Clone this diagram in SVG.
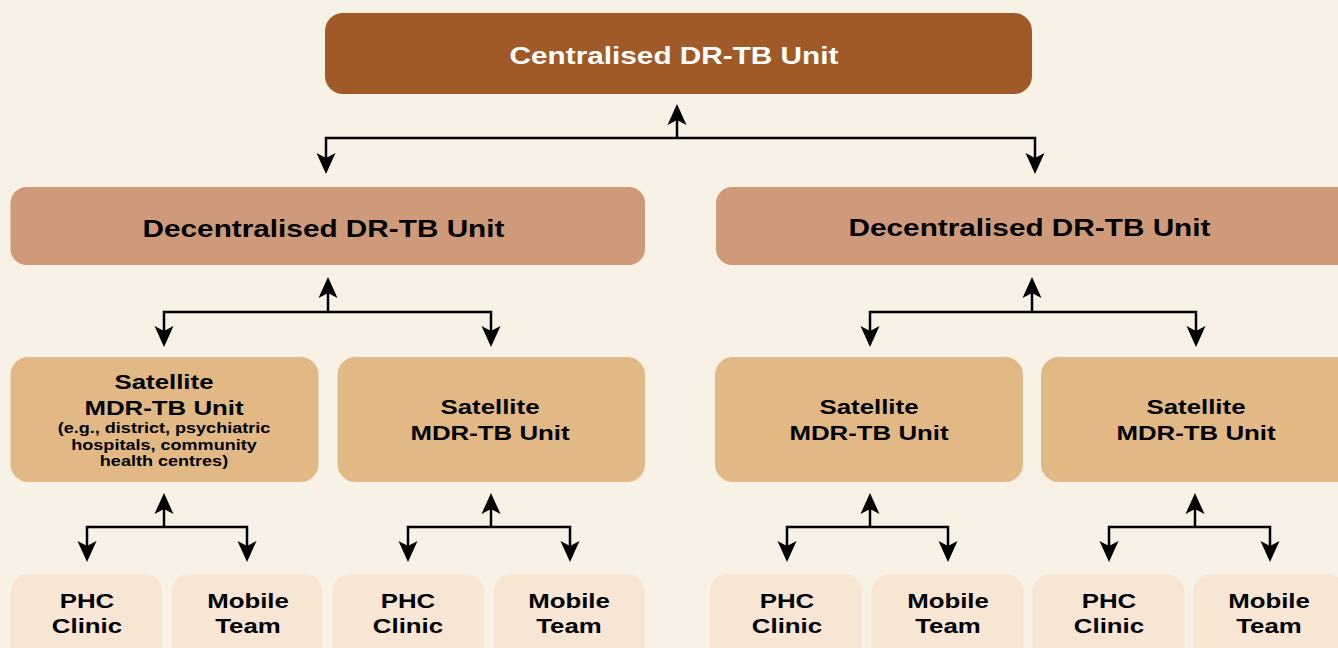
<svg xmlns="http://www.w3.org/2000/svg" width="1338" height="648" viewBox="0 0 1338 648">
<style>
  text { font-family: "Liberation Sans", Arial, Helvetica, sans-serif; font-weight: bold; text-anchor: middle; fill: #000; }
  .t1 { font-size: 24px; fill: #ffffff; }
  .t2 { font-size: 24px; }
  .t3 { font-size: 20.5px; }
  .t4 { font-size: 14px; }
  .t5 { font-size: 20.5px; }
  .c { fill: none; stroke: #000; stroke-width: 2.5; marker-end: url(#ah); }
  .central { fill: #A05A27; }
  .decen { fill: #CE9A7A; }
  .sat { fill: #E2B985; }
  .leaf { fill: #F7E6D4; }
</style>
<defs>
  <marker id="ah" markerUnits="userSpaceOnUse" markerWidth="22" markerHeight="22" viewBox="0 0 22 22" refX="15" refY="11" orient="auto">
    <path d="M0,1.5 L21,11 L0,20.5 L5,11 Z" fill="#000"/>
  </marker>
</defs>
<rect x="0" y="0" width="1338" height="648" fill="#F8F1E6"/>

<g id="connectors">
  <path class="c" d="M677,138 V110"/>
  <path class="c" d="M677,138 H326 V168"/>
  <path class="c" d="M677,138 H1035 V168"/>

  <path class="c" d="M328,312 V283"/>
  <path class="c" d="M328,312 H164 V341"/>
  <path class="c" d="M328,312 H491 V341"/>

  <path class="c" d="M1032,312 V283"/>
  <path class="c" d="M1032,312 H870 V341"/>
  <path class="c" d="M1032,312 H1196 V341"/>

  <path class="c" d="M164,527 V499"/>
  <path class="c" d="M164,527 H87 V556"/>
  <path class="c" d="M164,527 H247 V556"/>

  <path class="c" d="M491,527 V499"/>
  <path class="c" d="M491,527 H408 V556"/>
  <path class="c" d="M491,527 H570 V556"/>

  <path class="c" d="M870,527 V499"/>
  <path class="c" d="M870,527 H787 V556"/>
  <path class="c" d="M870,527 H948 V556"/>

  <path class="c" d="M1195,527 V499"/>
  <path class="c" d="M1195,527 H1109 V556"/>
  <path class="c" d="M1195,527 H1270 V556"/>
</g>

<g id="central">
  <rect class="central" x="325" y="13" width="707" height="81" rx="18"/>
  <text class="t1" transform="translate(674,63.5) scale(1.24,1)">Centralised DR-TB Unit</text>
</g>

<g id="decentral-left">
  <rect class="decen" x="10.5" y="187" width="634.5" height="78" rx="16"/>
  <text class="t2" transform="translate(323.5,237) scale(1.24,1)">Decentralised DR-TB Unit</text>
</g>
<g id="decentral-right">
  <rect class="decen" x="716" y="187" width="640" height="78" rx="16"/>
  <text class="t2" transform="translate(1029.5,236) scale(1.24,1)">Decentralised DR-TB Unit</text>
</g>

<g id="sat-1">
  <rect class="sat" x="10.5" y="357" width="308" height="125" rx="18"/>
  <text class="t3" transform="translate(164,389) scale(1.26,1)">Satellite</text>
  <text class="t3" transform="translate(164,414.5) scale(1.26,1)">MDR-TB Unit</text>
  <text class="t4" transform="translate(164,433) scale(1.29,1)">(e.g., district, psychiatric</text>
  <text class="t4" transform="translate(164,449.5) scale(1.29,1)">hospitals, community</text>
  <text class="t4" transform="translate(164,466) scale(1.29,1)">health centres)</text>
</g>
<g id="sat-2">
  <rect class="sat" x="337.5" y="357" width="307.5" height="125" rx="18"/>
  <text class="t3" transform="translate(490,414) scale(1.26,1)">Satellite</text>
  <text class="t3" transform="translate(490,439.5) scale(1.26,1)">MDR-TB Unit</text>
</g>
<g id="sat-3">
  <rect class="sat" x="715" y="357" width="308" height="125" rx="18"/>
  <text class="t3" transform="translate(869,414) scale(1.26,1)">Satellite</text>
  <text class="t3" transform="translate(869,439.5) scale(1.26,1)">MDR-TB Unit</text>
</g>
<g id="sat-4">
  <rect class="sat" x="1041" y="357" width="320" height="125" rx="18"/>
  <text class="t3" transform="translate(1196,414) scale(1.26,1)">Satellite</text>
  <text class="t3" transform="translate(1196,439.5) scale(1.26,1)">MDR-TB Unit</text>
</g>

<g id="phc-1">
  <rect class="leaf" x="10.5" y="574" width="151.5" height="100" rx="18"/>
  <text class="t5" transform="translate(87,607.5) scale(1.26,1)">PHC</text>
  <text class="t5" transform="translate(87,633) scale(1.26,1)">Clinic</text>
</g>
<g id="mobile-1">
  <rect class="leaf" x="171.5" y="574" width="151" height="100" rx="18"/>
  <text class="t5" transform="translate(248,607.5) scale(1.26,1)">Mobile</text>
  <text class="t5" transform="translate(248,633) scale(1.26,1)">Team</text>
</g>
<g id="phc-2">
  <rect class="leaf" x="332.5" y="574" width="151.5" height="100" rx="18"/>
  <text class="t5" transform="translate(408,607.5) scale(1.26,1)">PHC</text>
  <text class="t5" transform="translate(408,633) scale(1.26,1)">Clinic</text>
</g>
<g id="mobile-2">
  <rect class="leaf" x="493.5" y="574" width="151.5" height="100" rx="18"/>
  <text class="t5" transform="translate(569,607.5) scale(1.26,1)">Mobile</text>
  <text class="t5" transform="translate(569,633) scale(1.26,1)">Team</text>
</g>
<g id="phc-3">
  <rect class="leaf" x="710" y="574" width="152" height="100" rx="18"/>
  <text class="t5" transform="translate(787,607.5) scale(1.26,1)">PHC</text>
  <text class="t5" transform="translate(787,633) scale(1.26,1)">Clinic</text>
</g>
<g id="mobile-3">
  <rect class="leaf" x="871.5" y="574" width="152" height="100" rx="18"/>
  <text class="t5" transform="translate(948,607.5) scale(1.26,1)">Mobile</text>
  <text class="t5" transform="translate(948,633) scale(1.26,1)">Team</text>
</g>
<g id="phc-4">
  <rect class="leaf" x="1032.5" y="574" width="152" height="100" rx="18"/>
  <text class="t5" transform="translate(1109,607.5) scale(1.26,1)">PHC</text>
  <text class="t5" transform="translate(1109,633) scale(1.26,1)">Clinic</text>
</g>
<g id="mobile-4">
  <rect class="leaf" x="1193.5" y="574" width="152" height="100" rx="18"/>
  <text class="t5" transform="translate(1269,607.5) scale(1.26,1)">Mobile</text>
  <text class="t5" transform="translate(1269,633) scale(1.26,1)">Team</text>
</g>
</svg>
